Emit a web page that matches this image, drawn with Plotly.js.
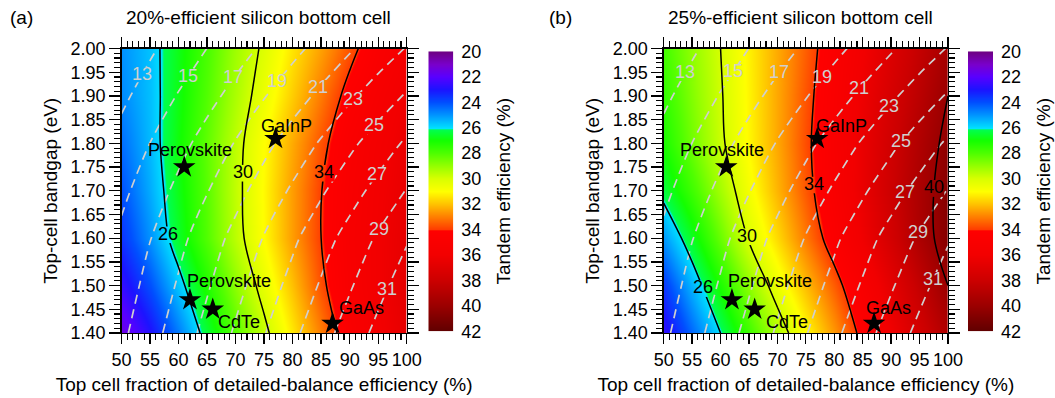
<!DOCTYPE html>
<html>
<head>
<meta charset="utf-8">
<script src="https://cdn.plot.ly/plotly-3.0.1.min.js"></script>
<style>
  html, body { margin: 0; padding: 0; background: #fff; }
  #chart { width: 1055px; height: 398px; }
</style>
</head>
<body>
<div id="chart"></div>
<script>
// Top-cell fraction of its detailed-balance efficiency (%) and top-cell bandgap (eV)
const fraction = [50, 55, 60, 65, 70, 75, 80, 85, 90, 95, 100];
const bandgap = [1.40, 1.50, 1.60, 1.70, 1.80, 1.90, 2.00];

// Tandem efficiency (%) with a 20%-efficient silicon bottom cell (rows follow bandgap)
const tandem20 = [
  [21.4, 22.9, 24.6, 26.45, 28.1, 29.7, 31.35, 33.05, 34.75, 35.8, 36.6],
  [22.6, 24.0, 25.65, 27.25, 28.85, 30.45, 32.0, 33.75, 35.1, 36.0, 36.7],
  [23.5, 24.95, 26.55, 28.05, 29.55, 31.05, 32.55, 34.0, 35.2, 36.0, 36.6],
  [24.0, 25.3, 26.75, 28.15, 29.65, 31.1, 32.55, 33.97, 35.1, 35.9, 36.5],
  [24.4, 25.5, 26.9, 28.25, 29.6, 31.0, 32.35, 33.7, 34.9, 35.7, 36.4],
  [24.8, 25.55, 26.8, 28.05, 29.3, 30.55, 31.8, 33.1, 34.4, 35.3, 36.1],
  [24.9, 25.6, 26.75, 27.9, 29.1, 30.2, 31.4, 32.5, 33.65, 34.8, 35.6]
];

// Tandem efficiency (%) with a 25%-efficient silicon bottom cell
const tandem25 = [
  [22.6, 24.3, 26.0, 27.7, 29.35, 31.0, 32.65, 34.35, 36.0, 37.6, 39.1],
  [23.6, 25.4, 27.15, 28.85, 30.55, 32.05, 33.55, 35.1, 36.7, 38.35, 40.0],
  [25.0, 26.6, 28.35, 30.1, 31.6, 33.1, 34.6, 36.1, 37.6, 39.25, 40.7],
  [26.35, 27.7, 29.2, 30.75, 32.2, 33.6, 35.0, 36.45, 37.9, 39.3, 40.7],
  [27.1, 28.45, 29.8, 31.1, 32.4, 33.75, 35.05, 36.4, 37.75, 39.1, 40.4],
  [27.5, 28.7, 29.9, 31.15, 32.4, 33.65, 34.9, 36.2, 37.45, 38.7, 40.0],
  [27.8, 28.9, 30.0, 31.2, 32.35, 33.5, 34.7, 35.9, 37.1, 38.3, 39.5]
];

// Detailed-balance efficiency limit (%) of the top cell at each bandgap
const detailedBalance = [33.2, 32.0, 30.8, 29.1, 27.3, 25.2, 23.1];

// Top-cell efficiency contour levels (%), dashed
const topCellLevels = [13, 15, 17, 19, 21, 23, 25, 27, 29, 31];
// Tandem efficiency contour levels (%), solid
const tandemLevels20 = [26, 30, 34];
const tandemLevels25 = [26, 30, 34, 40];

// Top-cell materials
const materials = ['Perovskite', 'GaInP', 'Perovskite', 'CdTe', 'GaAs'];
const materialFraction = [61, 77, 62, 66, 87];
const materialBandgap = [1.75, 1.81, 1.47, 1.45, 1.42];

// Colour-bar tick values (%)
const effTicks = [20, 22, 24, 26, 28, 30, 32, 34, 36, 38, 40, 42];

// ---------------- styling ----------------
const FONT = 'Liberation Sans, Arial, Helvetica, sans-serif';
const W = 1055, H = 398;
const ZMIN = 20, ZMAX = 42;
const colorStops = [
  [20, '#6e0082'], [21, '#7a00cc'], [22, '#5a00ff'], [23, '#1c14ff'],
  [24, '#0050ff'], [25, '#0098ff'], [26.05, '#00e4ff'],
  [26.12, '#00ff50'], [27, '#14ff00'], [28, '#50ff00'], [29, '#98ff00'],
  [30, '#d8ff00'], [31, '#ffff00'], [32, '#ffc000'], [33, '#ff8000'],
  [34.0, '#ff3c00'], [34.08, '#ff0000'], [36, '#f20000'], [38, '#cc0000'],
  [40, '#9a0000'], [42, '#600000']
];
const colorscale = colorStops.map(([v, c]) => [(v - ZMIN) / (ZMAX - ZMIN), c]);

const GRAY = '#cfcfcf';
const PLOT_TOP = 48.5, PLOT_BOTTOM = 333;
const X0 = 50, X1 = 100, Y0 = 1.4, Y1 = 2.0;

// label placement (bandgap of each contour label) and star-label offsets in px
const PANELS = [
  {name: 'a', z: tandem20, levels: tandemLevels20, left: 121.5, right: 406.7, cbLeft: 428.3,
   grayLabelY: [1.945, 1.940, 1.937, 1.930, 1.917, 1.892, 1.836, 1.734, 1.618, 1.491],
   lineLabelY: [1.607, 1.737, 1.737],
   starLabelShift: [[6, 17], [11, 13], [39, 19], [26, -13], [29, 16]],
   title: '20%-efficient silicon bottom cell', titleX: 258, tag: '(a)', tagX: 8},
  {name: 'b', z: tandem25, levels: tandemLevels25, left: 663.7, right: 948, cbLeft: 968,
   grayLabelY: [1.948, 1.950, 1.948, 1.937, 1.914, 1.877, 1.803, 1.695, 1.610, 1.512],
   lineLabelY: [1.494, 1.603, 1.712, 1.705],
   starLabelShift: [[-4, 17], [24, 13], [38, 19], [32, -13], [14, 16]],
   title: '25%-efficient silicon bottom cell', titleX: 800, tag: '(b)', tagX: 547}
];

// top-cell efficiency = fraction x detailed-balance limit
const topCell = detailedBalance.map(db => fraction.map(f => f * db / 100));

// x position where a contour level crosses the bandgap y (linear in both directions)
function crossing(z, level, y) {
  let i = 0;
  while (i < bandgap.length - 2 && y > bandgap[i + 1]) i++;
  const t = (y - bandgap[i]) / (bandgap[i + 1] - bandgap[i]);
  const row = z[i].map((v, j) => v * (1 - t) + z[i + 1][j] * t);
  for (let j = 0; j < row.length - 1; j++) {
    const a = row[j] - level, b = row[j + 1] - level;
    if (a === 0) return fraction[j];
    if (a * b < 0) return fraction[j] + (level - row[j]) / (row[j + 1] - row[j]) * (fraction[j + 1] - fraction[j]);
  }
  return fraction[fraction.length - 1];
}

const toPxX = (p, x) => p.left + (x - X0) / (X1 - X0) * (p.right - p.left);
const toPxY = y => PLOT_TOP + (Y1 - y) / (Y1 - Y0) * (PLOT_BOTTOM - PLOT_TOP);
const fromPxX = (p, px) => X0 + (px - p.left) / (p.right - p.left) * (X1 - X0);
const fromPxY = py => Y1 - (py - PLOT_TOP) / (PLOT_BOTTOM - PLOT_TOP) * (Y1 - Y0);
const domX = (a, b) => [a / W, b / W];
const domY = (top, bottom) => [1 - bottom / H, 1 - top / H];

const data = [];
const layout = {
  width: W, height: H,
  margin: {l: 0, r: 0, t: 0, b: 0},
  paper_bgcolor: '#fff', plot_bgcolor: 'rgba(0,0,0,0)',
  font: {family: FONT, color: '#000'},
  showlegend: false,
  annotations: []
};

function axKey(letter, n) { return letter + 'axis' + (n === 1 ? '' : n); }
function axId(letter, n) { return letter + (n === 1 ? '' : n); }

function fillTrace(z, n) {
  return {
    type: 'heatmap', x: fraction, y: bandgap, z: z,
    colorscale: colorscale, zmin: ZMIN, zmax: ZMAX, zsmooth: 'best',
    showscale: false, hoverinfo: 'skip', xaxis: axId('x', n), yaxis: axId('y', n)
  };
}

function hiddenAxes(n, xDom, yDom, xr, yr) {
  layout[axKey('x', n)] = {domain: xDom, range: xr, anchor: axId('y', n), visible: false, fixedrange: true};
  layout[axKey('y', n)] = {domain: yDom, range: yr, anchor: axId('x', n), visible: false, fixedrange: true};
}

// small re-drawn piece of the colour field that opens a gap in the contour line under its label
function labelGap(n, p, x, y, w, h) {
  const cx = toPxX(p, x), cy = toPxY(y);
  hiddenAxes(n, domX(cx - w / 2, cx + w / 2), domY(cy - h / 2, cy + h / 2),
    [fromPxX(p, cx - w / 2), fromPxX(p, cx + w / 2)], [fromPxY(cy + h / 2), fromPxY(cy - h / 2)]);
  data.push(fillTrace(p.z, n));
}

const tickFont = {family: FONT, size: 18, color: '#000'};
const titleFont = {family: FONT, size: 19, color: '#000'};

function mainAxes(n, p) {
  layout[axKey('x', n)] = {
    domain: domX(p.left, p.right), anchor: axId('y', n), range: [X0, X1], dtick: 5, tick0: 50,
    ticks: 'outside', ticklen: 10, tickwidth: 1.3, tickcolor: '#000',
    minor: {dtick: 1, ticks: 'outside', ticklen: 6, tickwidth: 1.1, tickcolor: '#000'},
    showline: true, linecolor: '#000', linewidth: 1.4, mirror: 'ticks',
    showgrid: false, zeroline: false, tickfont: tickFont, fixedrange: true,
    title: {text: 'Top cell fraction of detailed-balance efficiency (%)', font: titleFont, standoff: 8}
  };
  layout[axKey('y', n)] = {
    domain: domY(PLOT_TOP, PLOT_BOTTOM), anchor: axId('x', n), range: [Y0, Y1], dtick: 0.05, tick0: 1.4,
    tickformat: '.2f',
    ticks: 'outside', ticklen: 11, tickwidth: 1.3, tickcolor: '#000',
    minor: {dtick: 0.01, ticks: 'outside', ticklen: 6, tickwidth: 1.1, tickcolor: '#000'},
    showline: true, linecolor: '#000', linewidth: 1.4, mirror: 'ticks',
    showgrid: false, zeroline: false, tickfont: tickFont, fixedrange: true,
    title: {text: 'Top-cell bandgap (eV)', font: titleFont, standoff: 8}
  };
}

function colorBar(n, p) {
  layout[axKey('x', n)] = {domain: domX(p.cbLeft, p.cbLeft + 25), anchor: axId('y', n), range: [0, 1],
    visible: false, fixedrange: true};
  layout[axKey('y', n)] = {
    domain: domY(51.3, 331.3), anchor: axId('x', n), range: [ZMAX, ZMIN], side: 'right',
    tickvals: effTicks, ticks: '', showline: false, showgrid: false, zeroline: false,
    ticklabelstandoff: 7, tickfont: tickFont, fixedrange: true,
    title: {text: 'Tandem efficiency (%)', font: titleFont, standoff: 16}
  };
  data.push({
    type: 'heatmap', x: [0, 1], y: colorStops.map(s => s[0]),
    z: colorStops.map(s => [s[0], s[0]]),
    colorscale: colorscale, zmin: ZMIN, zmax: ZMAX, zsmooth: 'best',
    showscale: false, hoverinfo: 'skip', xaxis: axId('x', n), yaxis: axId('y', n)
  });
}

// 1-2: colour fields with dashed top-cell contours; 3-4: colour bars
PANELS.forEach((p, k) => {
  const n = k + 1;
  p.base = n;
  mainAxes(n, p);
  data.push(fillTrace(p.z, n));
  data.push({
    type: 'contour', x: fraction, y: bandgap, z: topCell, autocontour: false,
    contours: {coloring: 'none', showlabels: false,
      start: topCellLevels[0], end: topCellLevels[topCellLevels.length - 1],
      size: topCellLevels[1] - topCellLevels[0]},
    line: {color: GRAY, width: 1.7, dash: '9px,6px', smoothing: 0.8},
    showscale: false, hoverinfo: 'skip', xaxis: axId('x', n), yaxis: axId('y', n)
  });
});
PANELS.forEach((p, k) => colorBar(k + 3, p));

let next = 5;
// gaps under the dashed-line labels
PANELS.forEach(p => {
  topCellLevels.forEach((lv, i) => {
    const y = p.grayLabelY[i];
    labelGap(next++, p, crossing(topCell, lv, y), y, 21, 16);
  });
});

// solid tandem-efficiency contours and the material stars
PANELS.forEach(p => {
  const n = next++;
  hiddenAxes(n, domX(p.left, p.right), domY(PLOT_TOP, PLOT_BOTTOM), [X0, X1], [Y0, Y1]);
  p.levels.forEach(lv => {
    data.push({
      type: 'contour', x: fraction, y: bandgap, z: p.z, autocontour: false,
      contours: {coloring: 'none', showlabels: false, start: lv, end: lv, size: 1},
      line: {color: '#000', width: 1.5, smoothing: 1},
      showscale: false, hoverinfo: 'skip', xaxis: axId('x', n), yaxis: axId('y', n)
    });
  });
  data.push({
    type: 'scatter', mode: 'markers', x: materialFraction, y: materialBandgap,
    marker: {symbol: 'star', size: 17, color: '#000', line: {width: 0}},
    cliponaxis: false, hoverinfo: 'skip', xaxis: axId('x', n), yaxis: axId('y', n)
  });
});

// gaps under the solid-line labels
PANELS.forEach(p => {
  p.levels.forEach((lv, i) => {
    const y = p.lineLabelY[i];
    labelGap(next++, p, crossing(p.z, lv, y), y, 21, 17);
  });
});

// label text
PANELS.forEach(p => {
  const xr = axId('x', p.base), yr = axId('y', p.base);
  topCellLevels.forEach((lv, i) => {
    const y = p.grayLabelY[i];
    layout.annotations.push({text: String(lv), x: crossing(topCell, lv, y), y: y, xref: xr, yref: yr,
      showarrow: false, xanchor: 'center', yanchor: 'middle', yshift: 1,
      font: {family: FONT, size: 18, color: GRAY}});
  });
  p.levels.forEach((lv, i) => {
    const y = p.lineLabelY[i];
    layout.annotations.push({text: String(lv), x: crossing(p.z, lv, y), y: y, xref: xr, yref: yr,
      showarrow: false, xanchor: 'center', yanchor: 'middle', yshift: 1,
      font: {family: FONT, size: 18, color: '#000'}});
  });
  materials.forEach((m, i) => {
    layout.annotations.push({text: m, x: materialFraction[i], y: materialBandgap[i], xref: xr, yref: yr,
      showarrow: false, xanchor: 'center', yanchor: 'middle',
      xshift: p.starLabelShift[i][0], yshift: p.starLabelShift[i][1],
      font: {family: FONT, size: 18, color: '#000'}});
  });
  layout.annotations.push({text: p.title, x: p.titleX / W, y: 1 - 18 / H, xref: 'paper', yref: 'paper',
    xanchor: 'center', yanchor: 'middle', showarrow: false, font: titleFont});
  layout.annotations.push({text: p.tag, x: p.tagX / W, y: 1 - 18 / H, xref: 'paper', yref: 'paper',
    xanchor: 'left', yanchor: 'middle', showarrow: false, font: titleFont});
});

Plotly.newPlot('chart', data, layout, {staticPlot: true, displayModeBar: false});
</script>
</body>
</html>
